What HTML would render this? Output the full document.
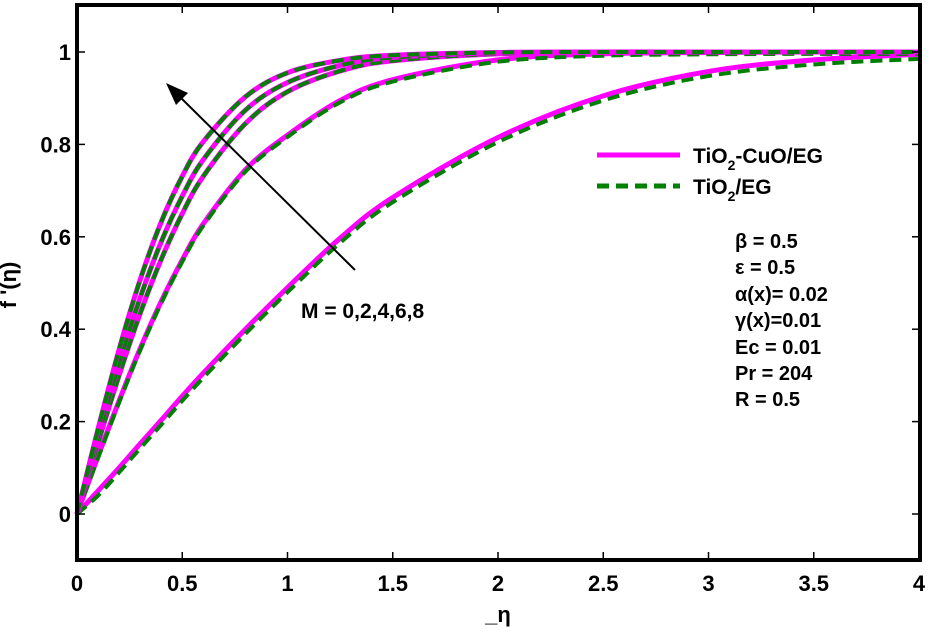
<!DOCTYPE html>
<html><head><meta charset="utf-8"><style>
body{margin:0;background:#fff}
svg text{font-family:"Liberation Sans",Arial,sans-serif;font-weight:bold;fill:#000}
</style></head><body>
<svg width="931" height="631" viewBox="0 0 931 631" xmlns="http://www.w3.org/2000/svg">
<g id="plot"></g>
<rect x="77" y="5" width="843" height="555" fill="none" stroke="#000" stroke-width="4"/>
<g id="axes"></g>
<text x="16" y="285" font-size="22" transform="rotate(-90 16 285)" text-anchor="middle">f '(η)</text>
<text x="498" y="622" font-size="22" text-anchor="middle">_η</text>
<line x1="355" y1="270" x2="178" y2="95" stroke="#000" stroke-width="2"/>
<polygon points="166,83 188,93 176,105" fill="#000"/>
<text x="301" y="318" font-size="21">M = 0,2,4,6,8</text>
<g>
<line x1="597" y1="155" x2="680" y2="155" stroke="#ff00ff" stroke-width="5"/>
<text x="693" y="163" font-size="21">TiO<tspan font-size="14" dy="7">2</tspan><tspan dy="-7">-CuO/EG</tspan></text>
<line x1="597" y1="186" x2="680" y2="186" stroke="#008000" stroke-width="5" stroke-dasharray="12,7"/>
<text x="693" y="194" font-size="21">TiO<tspan font-size="14" dy="7">2</tspan><tspan dy="-7">/EG</tspan></text>
</g>
<g font-size="20">
<text x="735" y="248">β   = 0.5</text>
<text x="735" y="274">ε = 0.5</text>
<text x="735" y="301">α(x)= 0.02</text>
<text x="735" y="327">γ(x)=0.01</text>
<text x="735" y="354">Ec = 0.01</text>
<text x="735" y="380">Pr  = 204</text>
<text x="735" y="406">R = 0.5</text>
</g>
</svg>
<script>
const etas=[0,0.1,0.2,0.3,0.4,0.5,0.6,0.8,1,1.25,1.5,2,2.5,3,3.5,4];
const mValues=[0,2,4,6,8];
const curveM0=[0,0.05,0.1,0.152,0.203,0.255,0.305,0.40,0.49,0.597,0.685,0.815,0.905,0.958,0.983,0.995];
const curveM2=[0,0.125,0.245,0.358,0.46,0.55,0.628,0.745,0.82,0.895,0.94,0.983,0.996,0.999,1,1];
const curveM4=[0,0.154,0.3,0.434,0.551,0.65,0.731,0.845,0.914,0.959,0.981,0.996,0.999,1,1,1];
const curveM6=[0,0.167,0.326,0.468,0.589,0.688,0.767,0.874,0.934,0.971,0.988,0.998,1,1,1,1];
const curveM8=[0,0.184,0.356,0.507,0.632,0.731,0.806,0.903,0.955,0.982,0.993,0.999,1,1,1,1];
const curves=[curveM0,curveM2,curveM4,curveM6,curveM8];
const greenOffset=[-0.01,-0.004,0,0,0];
const xTicks=[0,0.5,1,1.5,2,2.5,3,3.5,4];
const xTickLabels=["0","0.5","1","1.5","2","2.5","3","3.5","4"];
const yTicks=[0,0.2,0.4,0.6,0.8,1];
const yTickLabels=["0","0.2","0.4","0.6","0.8","1"];
const NS="http://www.w3.org/2000/svg";
const X=v=>77+v*210.5, Y=v=>514-v*462;
const plot=document.getElementById('plot'), axes=document.getElementById('axes');
function smooth(arr,off){
 const p=arr.map((v,i)=>[X(etas[i]),Y(Math.min(1,v+(i?off:0)))]);
 let d='M'+p[0][0]+','+p[0][1];
 for(let i=0;i<p.length-1;i++){const p0=p[i-1]||p[i],p1=p[i],p2=p[i+1],p3=p[i+2]||p2;
  d+=` C${p1[0]+(p2[0]-p0[0])/6},${p1[1]+(p2[1]-p0[1])/6} ${p2[0]-(p3[0]-p1[0])/6},${p2[1]-(p3[1]-p1[1])/6} ${p2[0]},${p2[1]}`;}
 return d;}
curves.forEach((c,k)=>{
 const m=document.createElementNS(NS,'path');
 m.setAttribute('d',smooth(c,0));m.setAttribute('fill','none');m.setAttribute('stroke','#ff00ff');m.setAttribute('stroke-width','5');
 
 
 plot.appendChild(m);
 const g=document.createElementNS(NS,'path');
 g.setAttribute('d',smooth(c,greenOffset[k]));g.setAttribute('fill','none');g.setAttribute('stroke','#008000');g.setAttribute('stroke-width','4');g.setAttribute('stroke-dasharray','12,7');
 
 
 plot.appendChild(g);
});
xTicks.forEach((t,i)=>{
 const l=document.createElementNS(NS,'line');
 l.setAttribute('x1',X(t));l.setAttribute('x2',X(t));l.setAttribute('y1',560);l.setAttribute('y2',552);l.setAttribute('stroke','#000');l.setAttribute('stroke-width','1.5');
 
 
 axes.appendChild(l);
 const l2=l.cloneNode();l2.setAttribute('y1',5);l2.setAttribute('y2',13);axes.appendChild(l2);
 const tx=document.createElementNS(NS,'text');
 tx.setAttribute('x',X(t));tx.setAttribute('y',591);tx.setAttribute('font-size','22');tx.setAttribute('text-anchor','middle');tx.textContent=xTickLabels[i];
 
 
 axes.appendChild(tx);
});
yTicks.forEach((t,i)=>{
 const l=document.createElementNS(NS,'line');
 l.setAttribute('x1',77);l.setAttribute('x2',85);l.setAttribute('y1',Y(t));l.setAttribute('y2',Y(t));l.setAttribute('stroke','#000');l.setAttribute('stroke-width','1.5');
 
 
 axes.appendChild(l);
 const l2=l.cloneNode();l2.setAttribute('x1',920);l2.setAttribute('x2',912);axes.appendChild(l2);
 const tx=document.createElementNS(NS,'text');
 tx.setAttribute('x',71);tx.setAttribute('y',Y(t)+8);tx.setAttribute('font-size','22');tx.setAttribute('text-anchor','end');tx.textContent=yTickLabels[i];
 
 
 axes.appendChild(tx);
});
</script>
</body></html>
